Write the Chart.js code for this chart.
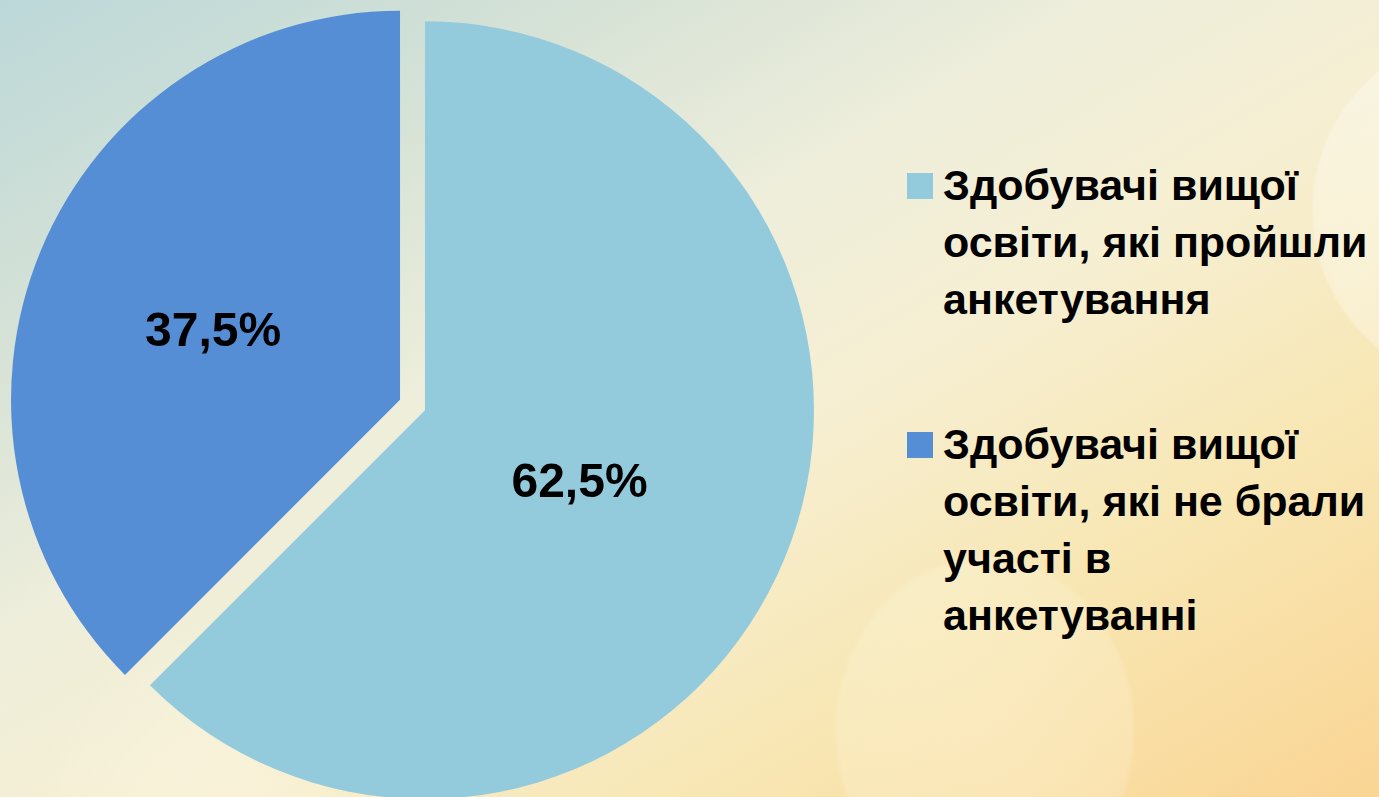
<!DOCTYPE html>
<html>
<head>
<meta charset="utf-8">
<script src="https://cdn.jsdelivr.net/npm/chart.js@4/dist/chart.umd.min.js"></script>
<style>
  html, body {
    margin: 0;
    padding: 0;
  }
  body {
    width: 1379px;
    height: 797px;
    overflow: hidden;
    position: relative;
    font-family: "Liberation Sans", Arial, sans-serif;
    background:
      radial-gradient(circle at 1490px 210px, rgba(255,255,250,0.42) 0, rgba(255,255,250,0.32) 176px, rgba(255,255,250,0) 179px),
      radial-gradient(ellipse 152px 175px at 985px 730px, rgba(255,252,235,0.28) 0, rgba(255,252,235,0.2) 96%, rgba(255,252,235,0) 100%),
      radial-gradient(circle at 230px 820px, rgba(255,252,240,0.35) 0, rgba(255,252,240,0) 200px),
      linear-gradient(150deg, #bcd8d9 0%, #d6e2d6 22%, #eeeedb 40%, #f6efd3 55%, #f8e7b4 75%, #fad594 100%);
  }
  #chartBox {
    position: absolute;
    left: 0;
    top: 0;
    width: 825px;
    height: 810px;
  }
  #legend {
    position: absolute;
    left: 907px;
    top: 157px;
  }
  .item {
    display: flex;
    align-items: flex-start;
    margin-bottom: 88px;
  }
  .box {
    width: 26px;
    height: 26px;
    margin-top: 16px;
    margin-right: 10px;
    flex: none;
  }
  .text {
    font-size: 43px;
    font-weight: bold;
    line-height: 57px;
    color: #000;
    white-space: nowrap;
  }
</style>
</head>
<body>
<div id="chartBox"><canvas id="myChart"></canvas></div>
<div id="legend"></div>

<script>
// data
const categories = [
  ['Здобувачі вищої', 'освіти, які пройшли', 'анкетування'],
  ['Здобувачі вищої', 'освіти, які не брали', 'участі в', 'анкетуванні']
]
const shares = [62.5, 37.5]
const shareLabels = ['62,5%', '37,5%']
const sliceColors = ['#93cbdd', '#558ed5']

// pulls every slice out of the centre by the same distance
const explode = {
  id: 'explode',
  beforeDatasetDraw(chart, args, opts) {
    const ctx = chart.ctx
    args.meta.data.forEach((arc) => {
      const p = arc.getProps(['startAngle', 'endAngle'], true)
      const mid = (p.startAngle + p.endAngle) / 2
      ctx.save()
      ctx.translate(Math.cos(mid) * opts.distance, Math.sin(mid) * opts.distance)
      arc.draw(ctx)
      ctx.restore()
    })
    return false
  },
  // percent text inside each slice
  afterDatasetsDraw(chart, args, opts) {
    const ctx = chart.ctx
    const meta = chart.getDatasetMeta(0)
    ctx.save()
    ctx.font = opts.font
    ctx.fillStyle = opts.color
    ctx.textAlign = 'center'
    ctx.textBaseline = 'middle'
    meta.data.forEach((arc, i) => {
      const p = arc.getProps(['x', 'y', 'startAngle', 'endAngle', 'outerRadius'], true)
      const mid = (p.startAngle + p.endAngle) / 2
      const d = opts.distance + p.outerRadius * opts.labelDist[i]
      ctx.fillText(shareLabels[i], p.x + Math.cos(mid) * d, p.y + Math.sin(mid) * d + opts.textShift)
    })
    ctx.restore()
  }
}

let myChart = new Chart('myChart', {
  type: 'pie',
  data: {
    labels: categories,
    datasets: [{
      data: shares,
      backgroundColor: sliceColors,
      borderWidth: 0
    }]
  },
  options: {
    responsive: true,
    maintainAspectRatio: false,
    animation: false,
    radius: 389,
    layout: {padding: 0},
    plugins: {
      legend: {display: false},
      tooltip: {enabled: false},
      explode: {
        distance: 13.5,
        font: 'bold 48px "Liberation Sans", Arial, sans-serif',
        color: '#000',
        labelDist: [0.43, 0.52],
        textShift: 10
      }
    }
  },
  plugins: [explode]
})

// legend on the right, built from the same arrays
const legend = document.getElementById('legend')
categories.forEach((lines, i) => {
  const item = document.createElement('div')
  item.className = 'item'
  const box = document.createElement('div')
  box.className = 'box'
  box.style.background = sliceColors[i]
  const text = document.createElement('div')
  text.className = 'text'
  text.innerHTML = lines.join('<br>')
  item.appendChild(box)
  item.appendChild(text)
  legend.appendChild(item)
})
</script>
</body>
</html>
